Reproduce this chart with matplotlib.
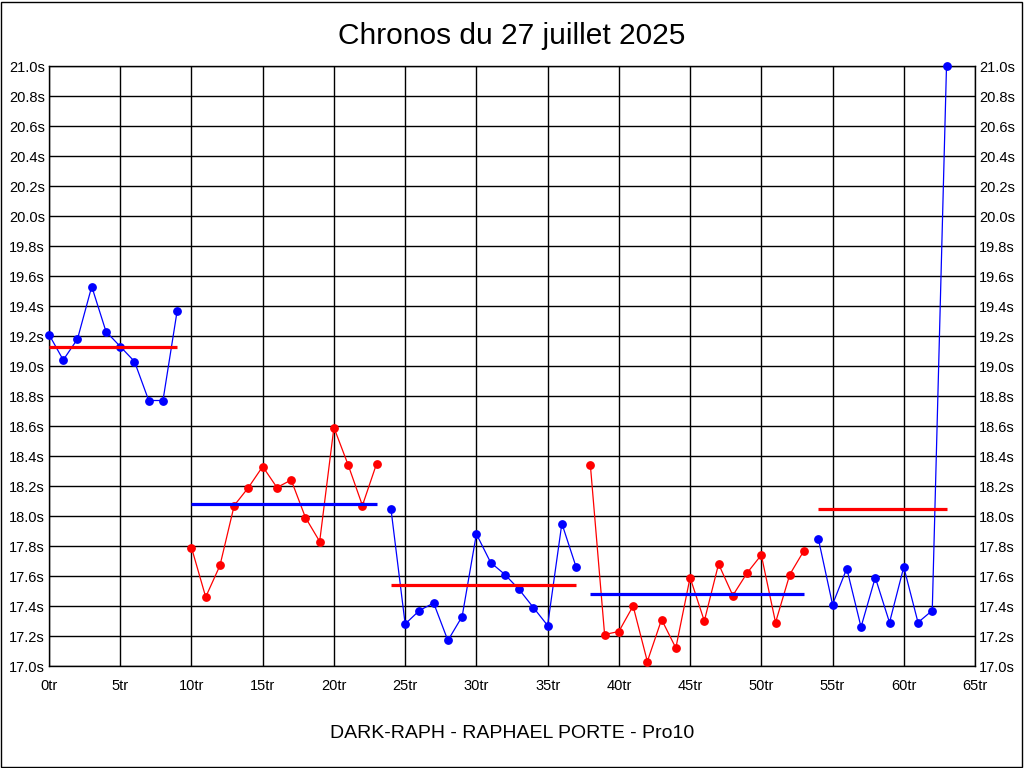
import numpy as np
import matplotlib
matplotlib.use("Agg")
import matplotlib.pyplot as plt
from matplotlib.patches import Rectangle

# ---- data ----
title = "Chronos du 27 juillet 2025"
footer = "DARK-RAPH - RAPHAEL PORTE - Pro10"

session1 = [19.21, 19.04, 19.18, 19.53, 19.23, 19.13, 19.03, 18.77, 18.77, 19.37]
session2 = [17.79, 17.46, 17.67, 18.07, 18.19, 18.33, 18.19, 18.24, 17.99, 17.83,
            18.59, 18.34, 18.07, 18.35]
session3 = [18.05, 17.28, 17.37, 17.42, 17.17, 17.33, 17.88, 17.69, 17.61, 17.51,
            17.39, 17.27, 17.95, 17.66]
session4 = [18.34, 17.21, 17.23, 17.40, 17.03, 17.31, 17.12, 17.59, 17.30, 17.68,
            17.47, 17.62, 17.74, 17.29, 17.61, 17.77]
session5 = [17.85, 17.41, 17.65, 17.26, 17.59, 17.29, 17.66, 17.29, 17.37, 23.10]
sessions = [session1, session2, session3, session4, session5]
line_colors = ["#0000ff", "#ff0000", "#0000ff", "#ff0000", "#0000ff"]
mean_colors = ["#ff0000", "#0000ff", "#ff0000", "#0000ff", "#ff0000"]

x_ticks = list(range(0, 70, 5))
x_labels = [f"{t}tr" for t in x_ticks]
y_ticks = [round(17.0 + 0.2 * i, 1) for i in range(21)]
y_labels = [f"{t:.1f}s" for t in y_ticks]
X_MIN, X_MAX = 0, 65
Y_MIN, Y_MAX = 17.0, 21.0

plt.rcParams["font.family"] = ["Liberation Sans", "DejaVu Sans"]

W, H = 1024, 768
fig = plt.figure(figsize=(W / 100, H / 100), dpi=100)
fig.patches.append(Rectangle((1 / W, 1 / H), (W - 3) / W, (H - 3) / H,
                             transform=fig.transFigure, fill=False,
                             edgecolor="black", linewidth=1))

ax = fig.add_axes([49 / W, (H - 666) / H, (975 - 49) / W, (666 - 66) / H])
ax.set_xlim(X_MIN, X_MAX)
ax.set_ylim(Y_MIN, Y_MAX)
ax.set_xticks(x_ticks)
ax.set_xticklabels(x_labels)
ax.set_yticks(y_ticks)
ax.set_yticklabels(y_labels)
ax.tick_params(axis="both", length=0, labelsize=10.5, colors="black")
ax.tick_params(axis="y", labelright=True, pad=3)
ax.tick_params(axis="x", pad=9)
ax.grid(True, color="black", linewidth=1)
ax.set_axisbelow(True)
for s in ax.spines.values():
    s.set_color("black")
    s.set_linewidth(1)

start = 0
for vals, lc, mc in zip(sessions, line_colors, mean_colors):
    vals = np.array(vals)
    xs = np.arange(start, start + len(vals))
    shown = np.minimum(vals, Y_MAX)
    ax.plot(xs, shown, color=lc, linewidth=0.9, marker="o", markersize=5.3,
            clip_on=False, zorder=3)
    m = vals.mean()
    ax.plot([xs[0], xs[-1]], [m, m], color=mc, linewidth=2.3, zorder=4,
            solid_capstyle="butt")
    start += len(vals)

fig.text(0.5, 1 - 36 / H, title, ha="center", va="center", fontsize=21.5)
fig.text(0.5, 1 - 733 / H, footer, ha="center", va="center", fontsize=14)

fig.savefig("out.png", dpi=100)
